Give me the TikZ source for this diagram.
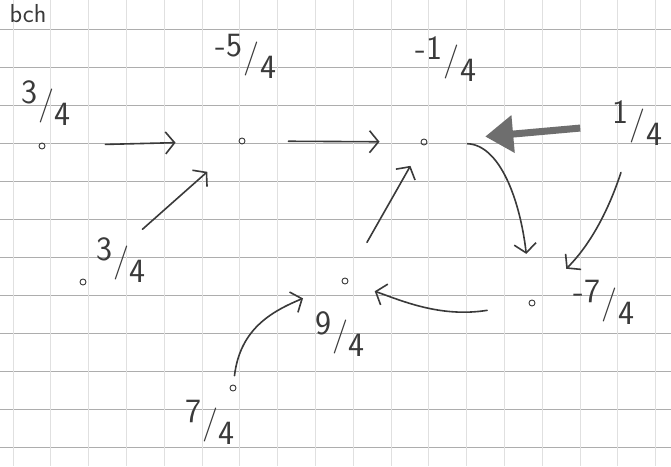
\documentclass[tikz,border=0pt]{standalone}
\usetikzlibrary{arrows.meta}
\definecolor{ink}{HTML}{3A3A3A}
\definecolor{pencil}{HTML}{6E6E6E}
\newcommand{\hf}[2]{\raisebox{11pt}{#1}\kern1pt/\kern1pt\raisebox{-11pt}{#2}}
\begin{document}
\begin{tikzpicture}[x=1pt,y=-1pt,
  dot/.style={circle,draw=ink,line width=0.9pt,inner sep=0pt,minimum size=6pt},
  lab/.style={text=ink,font=\sffamily\fontsize{34}{34}\selectfont,inner sep=0pt},
  arr/.style={draw=ink,line width=1.6pt,line cap=round,-{Straight Barb[length=9pt,width=22pt]}},
  scrib/.style={draw=pencil,line width=7pt,-{Triangle[length=28pt,width=36pt]}},
  hline/.style={draw=black!32,line width=0.9pt},
  vline/.style={draw=black!12,line width=0.8pt}]
\useasboundingbox (0,0) rectangle (671,466);
\fill[white] (0,0) rectangle (671,466);
% grid paper
\foreach \k in {0,...,11} \draw[hline] (0,{29+38*\k}) -- (671,{29+38*\k});
\foreach \k in {0,...,17} \draw[vline] ({13+37.8*\k},0) -- ({13+37.8*\k},466);
% dots
\node[dot] (a) at (42,146) {};
\node[dot] (b) at (242,141) {};
\node[dot] (c) at (424,142) {};
\node[dot] (d) at (83,282) {};
\node[dot] (e) at (345,281) {};
\node[dot] (f) at (532,303) {};
\node[dot] (g) at (233,388) {};
\node[lab] (q) at (637,123) {\hf{1}{4}};
% labels
\node[lab,font=\sffamily\fontsize{26}{26}\selectfont] (t) at (28,14) {bch};
\node[lab] (la) at (46,103) {\hf{3}{4}};
\node[lab] (lb) at (246,56) {\hf{-5}{4}};
\node[lab] (lc) at (446,59) {\hf{-1}{4}};
\node[lab] (ld) at (121,260) {\hf{3}{4}};
\node[lab] (le) at (340,334) {\hf{9}{4}};
\node[lab] (lf) at (604,302) {\hf{-7}{4}};
\node[lab] (lg) at (210,422) {\hf{7}{4}};
% connectors
\draw[arr, shorten <=60, shorten >=63] (a) -- (b);
\draw[arr, shorten <=43, shorten >=41] (b) -- (c);
\draw[arr, shorten <=76, shorten >=43] (d) -- (b);
\draw[arr, shorten <=41, shorten >=24] (e) -- (c);
\draw[scrib, shorten <=57, shorten >=58] (q.center) -- (c);
\draw[arr, shorten <=40, shorten >=46] (c) .. controls (500,145) and (520,200) .. (f);
\draw[arr, shorten <=52, shorten >=45] (q.center) .. controls (612,200) and (595,240) .. (f);
\draw[arr, shorten <=42, shorten >=28] (f) .. controls (440,318) and (400,300) .. (e);
\draw[arr, shorten <=9, shorten >=42] (g) .. controls (240,330) and (270,312) .. (e);
\end{tikzpicture}
\end{document}
